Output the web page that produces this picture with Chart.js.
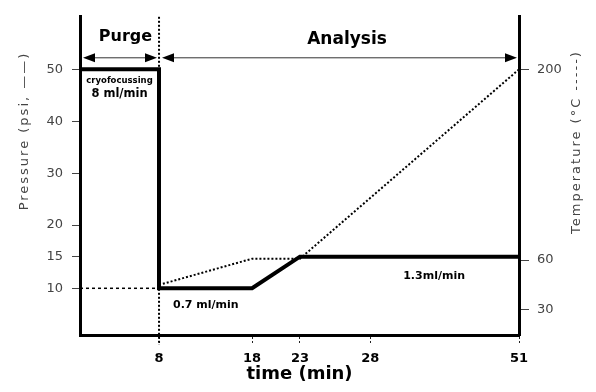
<!DOCTYPE html>
<html>
<head>
<meta charset="utf-8">
<script src="https://cdn.jsdelivr.net/npm/chart.js@4.4.1/dist/chart.umd.min.js"></script>
<style>
html, body { margin: 0; padding: 0; background: #fff; }
canvas { display: block; }
</style>
</head>
<body>
<canvas id="c" width="596" height="392"></canvas>
<script>
// ---- data ----
const timeTicks = [8, 18, 23, 28, 51];            // minutes
const pressureTicks = [50, 40, 30, 20, 15, 10];    // psi
const temperatureTicks = [200, 60, 30];            // °C
const pressureTime = [0, 8, 8, 18, 23, 51];
const pressureValues = [50, 50, 10, 10, 15, 15];
const temperatureTime = [8, 18, 23, 51];
const temperatureValues = [45, 61, 61, 200];
const phaseNames = ['Purge', 'Analysis'];
const phaseStart = [0, 8];
const phaseEnd = [8, 51];
const flowLabels = ['cryofocussing', '8 ml/min', '0.7 ml/min', '1.3ml/min'];

// The source figure is a schematic with non-uniform axes; each axis is
// mapped piecewise-linearly (value -> fraction of the axis length).
const axisBreaks = {
  x:  [[0, 0], [8, 0.18], [18, 0.392], [23, 0.501], [28, 0.661], [51, 1]],
  yP: [[0, 0], [10, 48 / 327], [20, 113 / 327], [50, 273 / 327], [60, 1]],
  yT: [[15, 0], [30, 26 / 327], [60, 77 / 327], [200, 273 / 327], [240, 1]]
};

class PiecewiseScale extends Chart.LinearScale {
  static id = 'piecewise';
  static defaults = {};
  _b() { return axisBreaks[this.id]; }
  _toFrac(v) {
    const b = this._b();
    let i = 1;
    while (i < b.length - 1 && v > b[i][0]) i++;
    const [v0, f0] = b[i - 1], [v1, f1] = b[i];
    return f0 + (v - v0) / (v1 - v0) * (f1 - f0);
  }
  _fromFrac(f) {
    const b = this._b();
    let i = 1;
    while (i < b.length - 1 && f > b[i][1]) i++;
    const [v0, f0] = b[i - 1], [v1, f1] = b[i];
    return v0 + (f - f0) / (f1 - f0) * (v1 - v0);
  }
  getPixelForValue(v) {
    if (v === null || v === undefined || isNaN(v)) return NaN;
    return this.getPixelForDecimal(this._toFrac(v));
  }
  getValueForPixel(p) {
    return this._fromFrac(this.getDecimalForPixel(p));
  }
}
Chart.register(PiecewiseScale);

const FONT = 'DejaVu Sans';

const guides = {
  id: 'guides',
  beforeDatasetsDraw(chart) {
    const { ctx, chartArea: a, scales: { x, yP } } = chart;
    const x8 = x.getPixelForValue(8);
    ctx.save();
    ctx.strokeStyle = '#000';
    ctx.setLineDash([2, 2]);
    ctx.lineWidth = 2;
    ctx.beginPath();
    ctx.moveTo(x8, a.top);
    ctx.lineTo(x8, a.bottom + 10);
    ctx.stroke();
    ctx.setLineDash([3, 3]);
    ctx.lineWidth = 1.5;
    const y10 = yP.getPixelForValue(10);
    ctx.beginPath();
    ctx.moveTo(a.left, y10);
    ctx.lineTo(x8, y10);
    ctx.stroke();
    ctx.restore();
  },
  afterDatasetsDraw(chart) {
    const { ctx, chartArea: a, scales: { x, yP } } = chart;
    const X = v => x.getPixelForValue(v);
    ctx.save();
    // phase arrows
    const ay = a.top + 41;
    function arrow(x1, x2) {
      ctx.strokeStyle = '#333';
      ctx.lineWidth = 1;
      ctx.setLineDash([]);
      ctx.beginPath();
      ctx.moveTo(x1 + 6, ay);
      ctx.lineTo(x2 - 6, ay);
      ctx.stroke();
      ctx.fillStyle = '#000';
      ctx.beginPath();
      ctx.moveTo(x1, ay); ctx.lineTo(x1 + 12, ay - 4.5); ctx.lineTo(x1 + 12, ay + 4.5); ctx.closePath();
      ctx.fill();
      ctx.beginPath();
      ctx.moveTo(x2, ay); ctx.lineTo(x2 - 12, ay - 4.5); ctx.lineTo(x2 - 12, ay + 4.5); ctx.closePath();
      ctx.fill();
    }
    for (let i = 0; i < phaseNames.length; i++) {
      arrow(X(phaseStart[i]) + 3, X(phaseEnd[i]) - 2);
    }
    ctx.fillStyle = '#000';
    ctx.textAlign = 'center';
    ctx.textBaseline = 'middle';
    ctx.font = 'bold 16px "' + FONT + '"';
    ctx.fillText(phaseNames[0], (X(phaseStart[0]) + X(phaseEnd[0])) / 2 + 6, a.top + 20);
    ctx.font = 'bold 17px "' + FONT + '"';
    ctx.fillText(phaseNames[1], (X(phaseStart[1]) + X(phaseEnd[1])) / 2 + 8, a.top + 23);

    // flow annotations
    ctx.font = 'bold 8.5px "' + FONT + '"';
    ctx.fillText(flowLabels[0], X(4), yP.getPixelForValue(50) + 11);
    ctx.font = 'bold 11.5px "' + FONT + '"';
    ctx.fillText(flowLabels[1], X(4), yP.getPixelForValue(50) + 25);
    ctx.textAlign = 'left';
    ctx.font = 'bold 11px "' + FONT + '"';
    ctx.fillText(flowLabels[2], X(8) + 14, yP.getPixelForValue(10) + 17);
    ctx.textAlign = 'right';
    ctx.fillText(flowLabels[3], X(51) - 54, yP.getPixelForValue(15) + 19);

    // vertical axis titles (both read bottom-to-top as in the source)
    ctx.fillStyle = '#444';
    ctx.textAlign = 'center';
    ctx.font = '13px "' + FONT + '"';
    ctx.letterSpacing = '2px';
    ctx.save();
    ctx.translate(25, 131);
    ctx.rotate(-Math.PI / 2);
    ctx.fillText('Pressure (psi, ——)', 0, 0);
    ctx.restore();
    ctx.save();
    ctx.translate(577, 142);
    ctx.rotate(-Math.PI / 2);
    ctx.fillText('Temperature (°C -----)', 0, 0);
    ctx.restore();
    ctx.restore();
  }
};

const xy = (xs, ys) => xs.map((t, i) => ({ x: t, y: ys[i] }));

new Chart(document.getElementById('c'), {
  type: 'line',
  data: {
    datasets: [
      {
        label: 'Pressure (psi)',
        data: xy(pressureTime, pressureValues),
        yAxisID: 'yP',
        borderColor: '#000',
        borderWidth: 4,
        pointRadius: 0,
        tension: 0,
        borderJoinStyle: 'miter'
      },
      {
        label: 'Temperature (°C)',
        data: xy(temperatureTime, temperatureValues),
        yAxisID: 'yT',
        borderColor: '#000',
        borderWidth: 2,
        borderDash: [2, 2],
        pointRadius: 0,
        tension: 0
      }
    ]
  },
  options: {
    responsive: false,
    animation: false,
    devicePixelRatio: 1,
    layout: { padding: { top: 8, left: 0, right: 0, bottom: 0 } },
    plugins: { legend: { display: false }, tooltip: { enabled: false } },
    scales: {
      x: {
        type: 'piecewise',
        position: 'bottom',
        min: 0, max: 51,
        afterBuildTicks: s => { s.ticks = timeTicks.map(v => ({ value: v })); },
        afterFit: s => { s.height = 57; },
        ticks: { font: { family: FONT, size: 13, weight: 'bold' }, color: '#000', padding: 7, autoSkip: false, maxRotation: 0 },
        grid: { drawOnChartArea: false, drawTicks: true, tickLength: 9, tickColor: '#222', tickWidth: 1, tickBorderDash: [2, 2] },
        border: { display: true, color: '#000', width: 3 },
        title: { display: true, text: 'time (min)', font: { family: FONT, size: 18, weight: 'bold' }, color: '#000', padding: { top: 0, bottom: 7 } }
      },
      yP: {
        type: 'piecewise',
        position: 'left',
        min: 0, max: 60,
        afterBuildTicks: s => { s.ticks = pressureTicks.map(v => ({ value: v })); },
        afterFit: s => { s.width = 80; },
        ticks: { font: { family: FONT, size: 13 }, color: '#444', padding: 9, autoSkip: false },
        grid: { drawOnChartArea: false, drawTicks: true, tickLength: 8, tickColor: '#444', tickWidth: 1 },
        border: { display: true, color: '#000', width: 3 }
      },
      yT: {
        type: 'piecewise',
        position: 'right',
        min: 15, max: 240,
        afterBuildTicks: s => { s.ticks = temperatureTicks.map(v => ({ value: v })); },
        afterFit: s => { s.width = 77; },
        ticks: { font: { family: FONT, size: 13 }, color: '#444', padding: 8, autoSkip: false },
        grid: { drawOnChartArea: false, drawTicks: true, tickLength: 10, tickColor: '#444', tickWidth: 1 },
        border: { display: true, color: '#000', width: 3 }
      }
    }
  },
  plugins: [guides]
});
</script>
</body>
</html>
